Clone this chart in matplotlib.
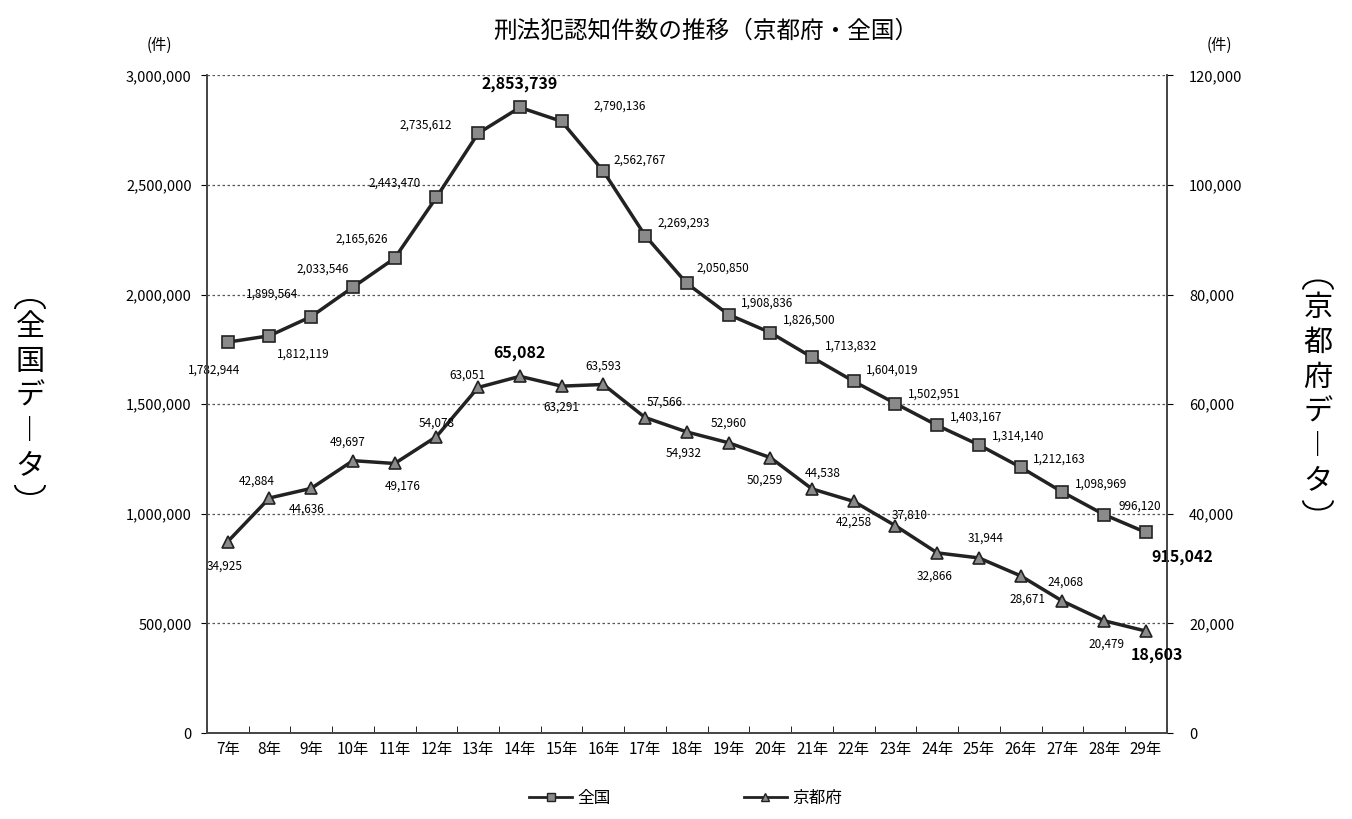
import matplotlib.pyplot as plt
from matplotlib.patches import Arc
from matplotlib.ticker import FuncFormatter

plt.rcParams['font.family'] = ['Noto Sans CJK JP', 'DejaVu Sans']

years = ['7年', '8年', '9年', '10年', '11年', '12年', '13年', '14年', '15年', '16年',
         '17年', '18年', '19年', '20年', '21年', '22年', '23年', '24年', '25年', '26年',
         '27年', '28年', '29年']
national = [1782944, 1812119, 1899564, 2033546, 2165626, 2443470, 2735612, 2853739,
            2790136, 2562767, 2269293, 2050850, 1908836, 1826500, 1713832, 1604019,
            1502951, 1403167, 1314140, 1212163, 1098969, 996120, 915042]
kyoto = [34925, 42884, 44636, 49697, 49176, 54078, 63051, 65082, 63291, 63593,
         57566, 54932, 52960, 50259, 44538, 42258, 37810, 32866, 31944, 28671,
         24068, 20479, 18603]

# label offsets in points (dx, dy)
nat_off = [(-10, -20), (24, -13), (-28, 16), (-22, 13), (-24, 14), (-30, 10), (-38, 6), (0, 17),
           (42, 11), (26, 8), (28, 9), (26, 11), (28, 8), (28, 9), (28, 8), (28, 8),
           (28, 7), (28, 6), (28, 6), (28, 6), (28, 6), (26, 6), (26, -18)]
kyo_off = [(-2, -18), (-9, 12), (-3, -15), (-4, 13), (6, -16), (0, 10), (-8, 9), (0, 17),
           (0, -15), (0, 13), (14, 11), (-2, -15), (0, 14), (-4, -16), (8, 11), (0, -15),
           (10, 8), (-2, -17), (5, 14), (5, -17), (2, 14), (2, -17), (8, -17)]
big_idx = [7, 22]

W, H = 1352, 819
fig = plt.figure(figsize=(W / 100, H / 100), dpi=100)
ax = fig.add_axes([0.153, 0.105, 0.71, 0.803])
ax2 = ax.twinx()

x = list(range(len(years)))
ax.plot(x, national, color='#222222', lw=2.5, marker='s', ms=8,
        mfc='#8a8a8a', mec='#222222', mew=1.2, zorder=3)
ax2.plot(x, kyoto, color='#222222', lw=2.5, marker='^', ms=8,
         mfc='#8a8a8a', mec='#222222', mew=1.2, zorder=3)

ax.set_xlim(-0.5, len(years) - 0.5)
ax.set_ylim(0, 3000000)
ax2.set_ylim(0, 120000)
ax.set_yticks(range(0, 3000001, 500000))
ax2.set_yticks(range(0, 120001, 20000))
fmt = FuncFormatter(lambda v, p: f'{int(v):,}')
ax.yaxis.set_major_formatter(fmt)
ax2.yaxis.set_major_formatter(fmt)

ax.set_xticks(x)
ax.set_xticklabels(years, fontsize=11)
ax.set_xticks([i - 0.5 for i in range(len(years) + 1)], minor=True)
ax.tick_params(axis='x', which='major', length=0, pad=6)
ax.tick_params(axis='x', which='minor', length=5, direction='in')
ax.tick_params(axis='y', labelsize=10.5, length=4, pad=7)
ax2.tick_params(axis='y', labelsize=10.5, length=4, pad=12)

ax.grid(axis='y', linestyle=(0, (2, 2)), color='#555555', lw=0.9)
ax.set_axisbelow(True)
for a in (ax, ax2):
    a.spines['top'].set_visible(False)
    for s in ('left', 'right', 'bottom'):
        a.spines[s].set_color('#444444')
        a.spines[s].set_linewidth(1.2)

for i, v in enumerate(national):
    big = i in big_idx
    ax.annotate(f'{v:,}', (i, v), xytext=nat_off[i], textcoords='offset points',
                ha='center', va='center', fontsize=11.5 if big else 8.5,
                fontweight='bold' if big else 'normal', zorder=4)
for i, v in enumerate(kyoto):
    big = i in big_idx
    ax2.annotate(f'{v:,}', (i, v), xytext=kyo_off[i], textcoords='offset points',
                 ha='center', va='center', fontsize=11.5 if big else 8.5,
                 fontweight='bold' if big else 'normal', zorder=4)

fig.text(0.522, 0.962, '刑法犯認知件数の推移（京都府・全国）', ha='center', va='center', fontsize=17)
fig.text(0.118, 0.945, '(件)', ha='center', va='center', fontsize=11)
fig.text(0.902, 0.945, '(件)', ha='center', va='center', fontsize=11)


def vertical_label(chars, xpix, ycenter, pitch=35):
    # stack characters top to bottom, with arched brackets at both ends
    n = len(chars)
    top = ycenter - pitch * (n - 1) / 2
    for k, c in enumerate(chars):
        fig.text(xpix / W, 1 - (top + k * pitch) / H, c, ha='center', va='center', fontsize=21)
    y_open = top - 18
    y_close = top + (n - 1) * pitch + 18
    fig.add_artist(Arc((xpix / W, 1 - y_open / H), 30 / W, 18 / H, theta1=0, theta2=180,
                       transform=fig.transFigure, color='black', lw=1.4))
    fig.add_artist(Arc((xpix / W, 1 - y_close / H), 30 / W, 18 / H, theta1=180, theta2=360,
                       transform=fig.transFigure, color='black', lw=1.4))


vertical_label(['全', '国', 'デ', '︱', 'タ'], 30, 397)
vertical_label(['京', '都', '府', 'デ', '︱', 'タ'], 1318, 395)

# legend
l1, = ax.plot([], [], color='#222222', lw=2, marker='s', ms=6, mfc='#8a8a8a', mec='#222222')
l2, = ax.plot([], [], color='#222222', lw=2, marker='^', ms=6, mfc='#8a8a8a', mec='#222222')
fig.legend([l1, l2], ['全国', '京都府'], loc='center', bbox_to_anchor=(0.507, 0.025),
           ncol=2, frameon=False, fontsize=12, columnspacing=8, handlelength=2.6,
           handletextpad=0.3)

fig.savefig('out.png', dpi=100)
